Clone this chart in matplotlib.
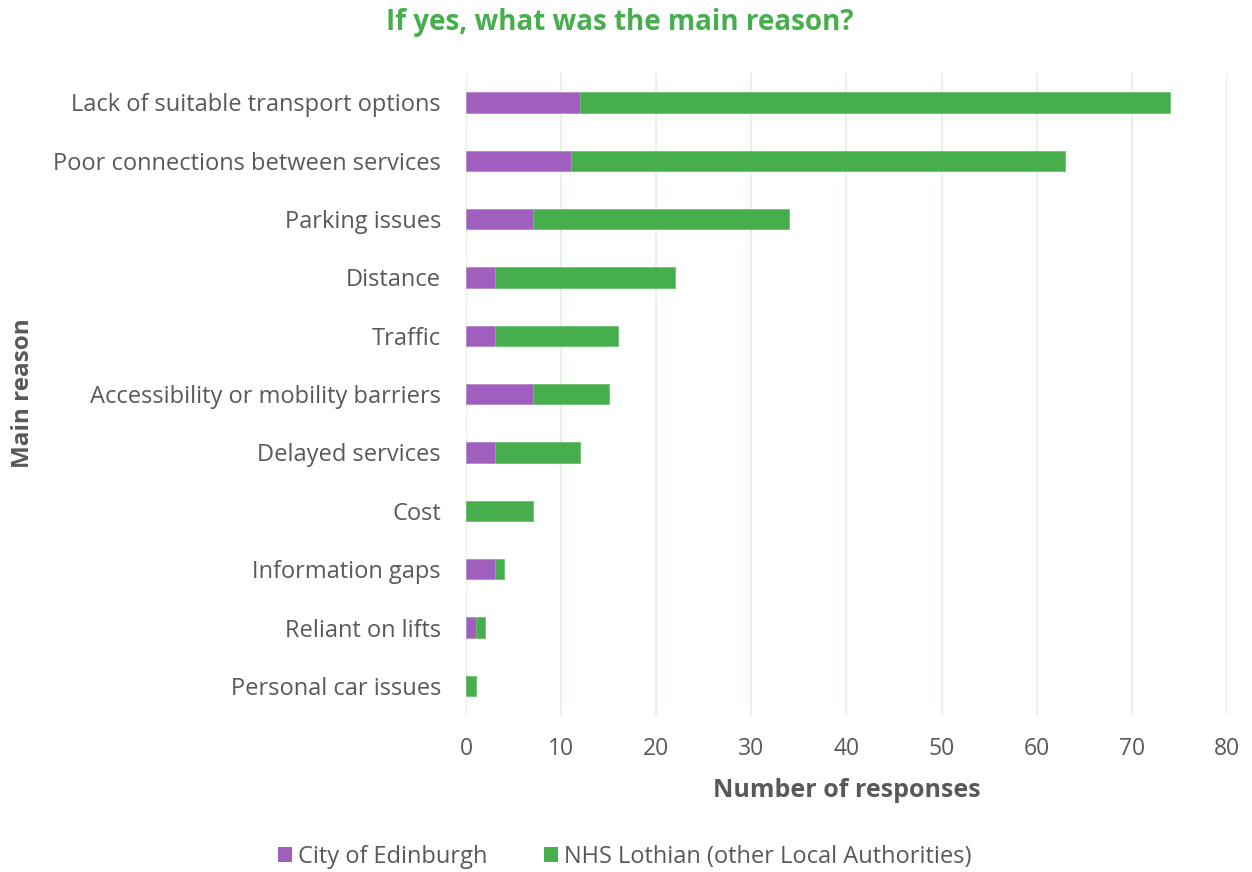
import matplotlib
matplotlib.use("Agg")
import matplotlib.pyplot as plt
from matplotlib.patches import Patch

categories = [
    "Lack of suitable transport options",
    "Poor connections between services",
    "Parking issues",
    "Distance",
    "Traffic",
    "Accessibility or mobility barriers",
    "Delayed services",
    "Cost",
    "Information gaps",
    "Reliant on lifts",
    "Personal car issues",
]
edinburgh = [12, 11, 7, 3, 3, 7, 3, 0, 3, 1, 0]
nhs_lothian = [62, 52, 27, 19, 13, 8, 9, 7, 1, 1, 1]
x_ticks = [0, 10, 20, 30, 40, 50, 60, 70, 80]

PURPLE = "#a05ebf"
GREEN = "#46ae4c"
TEXT = "#595959"
GRID = "#e2f5e2"

plt.rcParams["font.family"] = ["Open Sans", "DejaVu Sans"]

fig = plt.figure(figsize=(12.52, 8.72), dpi=100)
ax = fig.add_axes([0.3722, 0.18, 0.6078, 0.736])

pos = list(range(len(categories)))
ax.barh(pos, edinburgh, height=0.35, color=PURPLE, edgecolor="#b48ac8", linewidth=0.6, zorder=3)
ax.barh(pos, nhs_lothian, left=edinburgh, height=0.35, color=GREEN, edgecolor="#6cc070", linewidth=0.6, zorder=3)

ax.set_xlim(0, 80)
ax.set_ylim(len(categories) - 0.5, -0.5)
ax.set_xticks(x_ticks)
ax.set_yticks(pos)
ax.set_yticklabels(categories)
ax.tick_params(axis="both", length=0, colors=TEXT)
ax.tick_params(axis="y", pad=18, labelsize=17)
ax.tick_params(axis="x", pad=16, labelsize=16.5)
ax.grid(axis="x", color=GRID, linewidth=1.5, zorder=0)
for s in ax.spines.values():
    s.set_visible(False)

ax.set_xlabel("Number of responses", fontsize=18, fontweight="bold", color=TEXT, labelpad=12)
fig.text(0.018, 0.549, "Main reason", rotation=90, fontsize=17.5, fontweight="bold",
         color=TEXT, ha="center", va="center")
fig.text(0.495, 0.974, "If yes, what was the main reason?", fontsize=20, fontweight="bold",
         color=GREEN, ha="center", va="center")

handles = [Patch(facecolor=PURPLE, label="City of Edinburgh"),
           Patch(facecolor=GREEN, label="NHS Lothian (other Local Authorities)")]
fig.legend(handles=handles, loc="center", bbox_to_anchor=(0.499, 0.017), ncol=2, frameon=False,
           fontsize=17, labelcolor=TEXT, handlelength=0.6, handleheight=0.6,
           handletextpad=0.25, columnspacing=2.4)

fig.savefig("out.png", dpi=100)
